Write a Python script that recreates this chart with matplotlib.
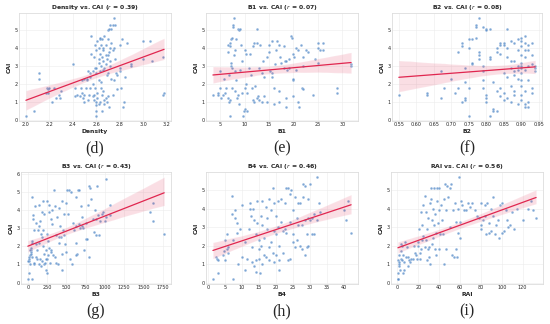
import matplotlib
matplotlib.use("Agg")
import matplotlib.pyplot as plt
import seaborn as sns

sns.set_style("whitegrid")
plt.rcParams['font.family'] = ['DejaVu Sans']

# scatter points (x, CAI)
density_pts = [(2.00,0.2),(2.07,0.5),(2.11,2.6),(2.11,2.3),(2.17,1.5),(2.18,1.8),(2.19,1.7),(2.19,1.5),(2.20,1.8),
    (2.22,1.0),(2.24,1.8),(2.26,1.2),(2.28,1.4),(2.29,1.2),(2.30,1.6),(2.40,3.1),(2.42,1.8),(2.42,1.3),(2.44,1.4),
    (2.46,1.3),(2.47,1.8),(2.48,1.5),(2.48,2.2),(2.49,1.2),(2.50,1.0),(2.50,1.4),(2.50,2.3),(2.51,1.8),(2.52,2.2),
    (2.52,2.3),(2.53,2.7),(2.53,1.1),(2.54,1.4),(2.55,1.8),(2.55,2.4),(2.55,2.6),(2.56,3.7),(2.56,4.7),(2.57,1.3),
    (2.57,2.0),(2.57,2.7),(2.58,1.4),(2.58,3.5),(2.58,1.1),(2.59,4.2),(2.59,1.8),(2.59,2.9),(2.60,0.2),(2.60,0.5),
    (2.60,0.8),(2.60,1.0),(2.60,2.6),(2.60,2.9),(2.60,3.9),(2.61,4.4),(2.61,1.2),(2.61,1.5),(2.62,2.2),(2.62,3.2),
    (2.62,4.0),(2.62,3.4),(2.62,0.9),(2.63,4.5),(2.63,4.6),(2.63,3.7),(2.63,2.7),(2.63,1.0),(2.64,2.1),(2.64,3.0),
    (2.64,4.2),(2.64,1.8),(2.65,0.5),(2.65,1.4),(2.65,3.5),(2.65,4.5),(2.66,2.8),(2.66,3.3),(2.66,4.0),(2.66,3.9),
    (2.66,1.6),(2.67,1.1),(2.67,0.9),(2.67,2.9),(2.67,4.7),(2.68,3.6),(2.68,4.2),(2.68,1.2),(2.68,3.1),(2.69,1.0),
    (2.69,2.5),(2.69,3.4),(2.70,4.5),(2.70,5.0),(2.70,2.6),(2.70,1.3),(2.70,3.6),(2.71,5.1),(2.71,3.8),(2.71,0.7),
    (2.72,5.3),(2.72,4.0),(2.72,3.0),(2.72,3.3),(2.73,5.1),(2.73,2.3),(2.73,4.3),(2.74,5.3),(2.74,3.9),(2.74,1.4),
    (2.75,5.7),(2.75,4.0),(2.75,2.2),(2.76,3.4),(2.76,5.3),(2.77,2.6),(2.78,2.5),(2.78,1.7),(2.80,2.7),(2.80,2.9),
    (2.80,4.2),(2.81,1.8),(2.82,4.5),(2.83,0.7),(2.84,1.0),(2.85,2.4),(2.86,4.3),(2.90,3.0),(2.90,3.1),(3.00,4.4),
    (3.00,3.4),(3.06,4.4),(3.08,3.3),(3.17,3.5),(3.18,1.5),(3.17,1.4)]

b1_pts = [(3.5,1.4),(4.5,1.5),(4.5,1.4),(5,2.7),(5,1.8),(5.2,1.2),(5.5,1.4),(5.8,2.3),(6,1.5),(6.2,1.8),(6.5,3.8),
    (6.5,4.2),(6.6,1.2),(6.8,1.0),(6.8,2.5),(6.9,4.1),(7,4.3),(7,0.2),(7,1.1),(7.2,4.5),(7.2,3.2),(7.3,3.0),(7.4,1.8),
    (7.5,4.6),(7.5,2.9),(7.6,5.2),(7.7,5.3),(7.8,5.7),(7.9,3.6),(8,3.9),(8,2.7),(8,1.6),(8.2,2.2),(8.3,4.5),(8.5,1.2),
    (8.6,5.1),(8.7,1.4),(8.8,5.0),(8.9,0.9),(9,5.1),(9,2.8),(9.3,4.2),(9.5,1.5),(9.5,3.3),(9.7,0.2),(9.8,0.5),(10,1.8),
    (10,3.9),(10,0.6),(10.2,2.0),(10.3,3.7),(10.5,1.5),(10.5,0.5),(10.8,2.9),(11,3.7),(11.2,2.5),(11.5,1.8),(11.7,1.1),
    (11.8,4.1),(12,4.3),(12,1.0),(12.2,1.9),(12.5,5.1),(12.5,1.2),(12.5,4.3),(12.8,1.3),(13,2.9),(13,1.1),(13.2,4.2),
    (13.5,2.6),(13.5,1.0),(13.8,3.3),(14,1.3),(14,2.4),(14.5,1.0),(14.5,3.5),(15,4.2),(15,3.8),(15.2,2.7),(15.5,2.6),
    (15.5,2.4),(15.7,4.4),(16,0.9),(16,1.8),(16.3,3.1),(16.5,3.9),(16.7,4.4),(17,1.0),(17,1.6),(17,4.2),(17.2,3.5),
    (17.5,3.2),(18,2.9),(18,4.1),(18.2,3.3),(18.5,0.7),(18.5,1.2),(18.5,3.3),(18.7,2.8),(19,3.4),(19,2.9),(19.5,4.7),
    (19.8,4.6),(20,3.7),(20,2.2),(20,2.3),(20,1.3),(20.2,3.5),(20.5,4.0),(20.5,2.8),(21,3.9),(21,1.0),(21.2,0.7),
    (21.5,4.2),(21.8,1.8),(22,1.7),(22,3.0),(22,3.5),(22.5,3.9),(23,3.8),(24,1.4),(24.5,3.4),(25,4.3),(25,4.0),
    (25,3.2),(25.5,3.9),(26,4.3),(26,3.9),(29,1.8),(29,1.5),(31.8,3.1),(31.8,3.0)]

b2_pts = [(0.55,1.4),(0.63,1.5),(0.63,1.4),(0.67,2.7),(0.67,1.2),(0.68,1.8),(0.70,2.3),(0.71,1.5),(0.72,1.8),(0.72,3.8),
    (0.73,4.1),(0.73,4.3),(0.73,1.0),(0.74,2.1),(0.74,2.9),(0.74,1.2),(0.74,1.1),(0.75,4.5),(0.75,4.0),(0.75,1.8),
    (0.75,0.2),(0.76,3.1),(0.76,3.2),(0.76,4.5),(0.77,4.6),(0.77,5.2),(0.77,5.3),(0.78,5.7),(0.78,3.6),(0.78,3.4),
    (0.78,3.8),(0.79,5.2),(0.79,3.0),(0.79,2.7),(0.79,2.2),(0.79,1.8),(0.80,5.1),(0.80,5.0),(0.80,1.4),(0.80,1.0),
    (0.80,1.2),(0.81,5.1),(0.81,3.4),(0.81,3.5),(0.81,0.2),(0.82,2.1),(0.82,0.6),(0.82,0.5),(0.83,4.0),(0.83,3.8),
    (0.83,1.6),(0.83,0.5),(0.84,3.7),(0.84,1.3),(0.84,1.8),(0.84,4.2),(0.84,4.3),(0.85,4.3),(0.85,4.2),(0.85,2.6),
    (0.85,1.5),(0.85,1.1),(0.86,4.0),(0.86,2.4),(0.86,5.1),(0.86,1.2),(0.86,3.5),(0.87,4.4),(0.87,2.9),(0.87,1.9),
    (0.87,1.0),(0.87,3.3),(0.88,4.3),(0.88,3.3),(0.88,2.7),(0.88,2.5),(0.88,1.6),(0.88,1.4),(0.89,4.5),(0.89,3.9),
    (0.89,3.0),(0.89,2.3),(0.89,0.9),(0.89,2.8),(0.90,4.6),(0.90,4.4),(0.90,4.1),(0.90,3.6),(0.90,3.2),(0.90,2.9),
    (0.90,2.6),(0.90,2.2),(0.90,1.9),(0.90,1.4),(0.90,1.1),(0.90,3.0),(0.91,4.7),(0.91,4.3),(0.91,3.9),(0.91,3.5),
    (0.91,2.8),(0.91,1.6),(0.91,0.9),(0.91,0.7),(0.92,4.2),(0.92,3.0),(0.92,2.2),(0.92,1.0),(0.92,0.7),(0.92,3.9),
    (0.93,4.3),(0.93,3.6),(0.93,3.1),(0.93,1.5),(0.93,1.8),(0.94,2.9),(0.94,2.7),(0.94,3.0)]

b3_pts = [(0,0.2),(10,0.5),(20,1.3),(10,1.4),(15,1.2),(25,1.0),(30,1.5),(35,1.7),(40,1.8),(45,1.9),(50,2.2),(55,2.3),
    (60,0.2),(60,4.7),(65,3.7),(70,3.5),(75,1.0),(80,2.9),(90,4.2),(100,1.4),(110,2.1),(120,1.3),(130,2.9),(140,4.3),
    (150,3.1),(160,3.4),(170,0.9),(175,2.7),(180,1.2),(190,3.9),(195,4.5),(200,2.0),(205,1.0),(210,1.6),(215,3.8),
    (220,1.1),(230,1.8),(240,0.7),(245,0.5),(250,4.5),(255,1.3),(260,2.3),(270,3.9),(280,4.3),(290,1.1),(300,3.5),
    (305,1.8),(310,3.2),(320,4.0),(330,1.5),(340,5.1),(350,4.2),(360,2.6),(370,1.1),(380,3.6),(390,1.0),(400,4.1),
    (410,2.2),(420,3.1),(430,2.5),(440,0.7),(445,1.6),(450,4.5),(460,2.9),(470,3.8),(480,2.1),(490,4.4),(500,1.7),
    (510,5.1),(520,3.8),(540,5.1),(550,1.3),(560,5.0),(570,1.0),(580,3.3),(600,2.9),(620,3.1),(630,4.7),(640,1.6),
    (650,5.1),(660,3.2),(670,5.1),(680,3.0),(690,4.2),(700,3.1),(720,3.0),(730,1.8),(760,2.4),(780,4.3),(790,1.4),
    (800,5.3),(810,5.2),(820,4.6),(840,3.5),(860,2.8),(870,4.0),(880,3.5),(890,2.6),(900,5.3),(910,3.7),(920,2.6),
    (940,3.4),(960,3.8),(980,3.9),(1000,3.4),(1010,5.7),(1020,3.6),(1070,3.7),(1070,4.3),(1590,3.9),(1620,4.4),
    (1620,3.4),(1770,2.7),(5,1.2),(30,1.8),(40,1.6),(50,1.4),(120,1.8),(140,1.0),(160,1.3),(180,2.5),(200,2.9),
    (230,1.3),(260,1.5),(280,1.9),(300,1.7),(150,2.2),(100,3.3),(80,1.1),(250,2.7),(350,1.4),(400,2.5),(470,2.6),
    (620,2.2),(630,1.5),(700,3.6),(750,3.3),(770,2.4)]

b4_pts = [(1.5,0.2),(2.5,1.4),(2.8,1.3),(3,0.5),(3,1.2),(4.5,1.5),(4.8,1.7),(5,2.3),(5,1.2),(5.5,2.6),(5.5,1.8),(6,1.9),
    (6,1.6),(7,4.7),(7.2,3.7),(7.5,0.2),(7.5,2.3),(8,3.9),(8,3.5),(8.5,3.2),(8.5,2.7),(9,1.0),(9.5,2.9),(10,4.2),
    (10,1.4),(11,2.2),(11,0.7),(11.5,1.3),(12,2.9),(12.5,4.3),(12.5,4.0),(12.8,3.6),(13,1.9),(13,1.1),(13.2,4.0),
    (13.5,3.4),(13.5,0.9),(14,1.2),(14,2.6),(14,0.6),(14.5,4.4),(14.5,3.2),(15,1.8),(15,1.3),(15,2.3),(15.2,0.5),
    (15.5,3.6),(15.5,2.0),(16,4.4),(16,3.1),(16,1.0),(16.5,2.4),(16.5,1.5),(17,4.1),(17,1.4),(17.5,3.5),(17.5,2.9),
    (18,4.5),(18,1.9),(18,1.2),(18.5,3.9),(18.5,2.2),(19,5.1),(19,1.6),(19.5,4.3),(19.5,2.8),(19.5,1.1),(20,3.6),
    (20,2.6),(20,1.5),(20.5,4.4),(20.5,3.0),(21,0.7),(21,2.0),(21,1.2),(21.5,4.5),(21.5,3.3),(22,2.8),(22,1.6),
    (22.5,4.3),(22.5,2.9),(23,5.1),(23,2.7),(23.5,5.1),(23.5,1.2),(24,4.8),(24,3.3),(24,1.3),(24.5,5.0),(25,3.9),
    (25,2.6),(25,2.2),(25.5,4.6),(25.5,1.9),(26,3.5),(26,2.3),(26.5,4.3),(26.5,3.1),(27,4.3),(27,2.0),(27.5,3.1),
    (27.5,1.8),(28,4.6),(28,5.3),(28.5,5.2),(28.5,3.4),(28.5,1.5),(29,2.6),(29,1.9),(29.5,2.0),(29.5,3.5),(29.5,4.5),
    (30,5.3),(30,3.4),(30.5,3.5),(30.5,2.6),(31,3.7),(31,2.6),(32,3.4),(32,5.7),(32.5,4.3),(33,3.8),(40,3.9),
    (40.5,3.4),(41,4.4),(42,2.7)]

rai_pts = [(0.5,0.5),(0.5,0.2),(1,0.2),(1,1.2),(1.5,0.9),(1.5,1.1),(2,1.0),(2,1.5),(2.5,0.7),(3,1.3),(3,1.7),(3.5,2.1),
    (4,1.2),(4.5,2.0),(5,0.5),(5,1.5),(6,0.7),(6,1.1),(7,2.2),(8,1.4),(9,1.9),(10,0.9),(10,1.4),(11,1.2),(12,1.1),
    (13,1.3),(15,1.3),(16,2.0),(17,1.6),(18,1.5),(19,1.3),(20,2.0),(20,2.2),(21,2.9),(22,1.6),(22,1.3),(23,3.8),
    (23,1.8),(24,2.3),(24,3.1),(25,4.2),(25,2.5),(26,4.7),(26,1.9),(27,3.8),(27,2.3),(28,1.2),(28,2.9),(29,1.8),
    (29,3.5),(30,1.9),(30,1.4),(31,4.3),(31,1.0),(32,5.1),(32,4.5),(33,3.4),(33,2.1),(34,4.0),(34,2.4),(35,5.1),
    (35,3.1),(36,1.8),(36,3.7),(37,2.7),(37,1.5),(38,5.1),(38,4.4),(39,3.2),(40,1.8),(40,5.1),(40,3.9),(41,2.6),
    (42,4.2),(43,3.4),(44,2.6),(45,1.0),(45,4.5),(46,5.3),(47,1.8),(47,3.9),(48,5.2),(49,4.6),(50,5.1),(50,3.0),
    (51,5.3),(52,1.5),(53,3.9),(54,1.4),(55,4.3),(56,1.8),(56,3.3),(57,1.4),(58,4.0),(58,2.7),(59,5.7),(60,3.3),
    (60,2.4),(61,4.4),(62,4.2),(64,3.9),(66,3.9),(68,4.3),(70,4.1),(72,4.3),(74,3.9),(76,3.6),(78,3.5),(80,4.3),
    (80,3.1),(80,2.9),(82,3.4),(84,4.2),(84,3.6),(85,2.6),(86,4.3),(88,3.2),(88,2.7),(90,4.0),(90,2.8),(92,3.6),
    (92,4.6),(94,2.6),(95,3.1),(96,3.4),(97,2.4),(98,4.2),(100,4.3),(100,2.7),(102,2.8),(104,3.9),(105,3.4),
    (106,3.0),(108,3.1),(110,3.8),(112,2.9),(115,4.0),(120,3.4),(125,4.0),(128,4.4),(130,3.9),(133,3.5)]

features = ["Density", "B1", "B2", "B3", "B4", "RAI"]
r_values = [0.39, 0.07, 0.08, 0.43, 0.46, 0.56]
panel_tags = ["(d)", "(e)", "(f)", "(g)", "(h)", "(i)"]
all_pts = [density_pts, b1_pts, b2_pts, b3_pts, b4_pts, rai_pts]

# axes boxes in pixels: left, right, top, bottom
boxes = [(19,171,13,121), (206,358,13,121), (392,542,13,121),
         (21,171,172,284), (206,358,172,284), (391,543,172,284)]

W, H = 550, 324
fig = plt.figure(figsize=(5.5, 3.24), dpi=100)

for i in range(6):
    l, r, t, b = boxes[i]
    ax = fig.add_axes([l/W, 1-b/H, (r-l)/W, (b-t)/H])
    xs = [p[0] for p in all_pts[i]]
    ys = [p[1] for p in all_pts[i]]
    sns.regplot(x=xs, y=ys, ax=ax, seed=1,
                scatter_kws=dict(s=3.5, color="#5289c7", alpha=0.75, edgecolor="white", linewidths=0.15),
                line_kws=dict(color="#e0264f", linewidth=0.9))
    ax.set_title(f"{features[i]} vs. CAI ($r$ = {r_values[i]:.2f})", fontsize=4.4, fontweight="bold", pad=3)
    ax.set_xlabel(features[i], fontsize=4.4, fontweight="bold", labelpad=1.5)
    ax.set_ylabel("CAI", fontsize=4.4, fontweight="bold", labelpad=2)
    ax.tick_params(labelsize=3.5, pad=1, length=0)
    ax.grid(True, color="#ececec", linewidth=0.4)
    for s in ax.spines.values():
        s.set_color("#dddddd")
        s.set_linewidth(0.6)
    fig.text((l+r)/2/W, 1-(b+27)/H, panel_tags[i], ha="center", va="center",
             fontsize=11.5, family="Liberation Serif")

fig.savefig("out.png", dpi=100)
